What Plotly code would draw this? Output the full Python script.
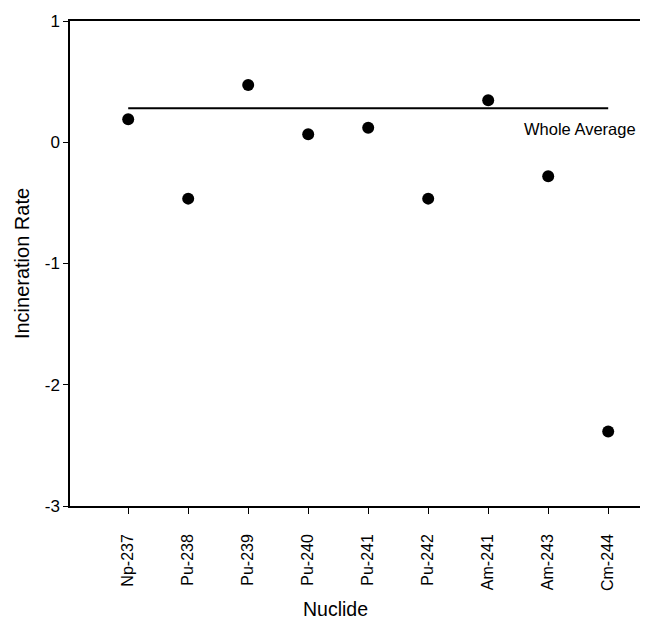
import plotly.graph_objects as go

nuclides = ["Np-237", "Pu-238", "Pu-239", "Pu-240", "Pu-241", "Pu-242", "Am-241", "Am-243", "Cm-244"]
incineration_rate = [0.19, -0.465, 0.473, 0.066, 0.12, -0.465, 0.347, -0.28, -2.385]
whole_average = 0.28
y_ticks = [1, 0, -1, -2, -3]
y_tick_labels = ["1", "0", "-1", "-2", "-3"]

positions = list(range(1, len(nuclides) + 1))
FONT = "Liberation Sans, Arial, sans-serif"

fig = go.Figure()
fig.add_trace(go.Scatter(
    x=[positions[0], positions[-1]], y=[whole_average, whole_average],
    mode="lines", line=dict(color="black", width=2), showlegend=False, hoverinfo="skip"))
fig.add_trace(go.Scatter(
    x=positions, y=incineration_rate, mode="markers",
    marker=dict(color="black", size=12), showlegend=False))

fig.add_annotation(x=8.53, y=whole_average, yshift=-21, text="Whole Average",
                   showarrow=False, xanchor="center", yanchor="middle",
                   font=dict(family=FONT, size=16.5, color="black"))
fig.add_annotation(x=0.466, y=-0.212, xref="paper", yref="paper", text="Nuclide",
                   showarrow=False, xanchor="center", yanchor="middle",
                   font=dict(family=FONT, size=19.5, color="black"))

fig.update_layout(
    width=659, height=623,
    margin=dict(l=70, r=19, t=14, b=117),
    plot_bgcolor="white", paper_bgcolor="white",
    font=dict(family=FONT, size=16, color="black"),
    xaxis=dict(range=[0.03, 9.53], tickmode="array", tickvals=positions, ticktext=nuclides,
               tickangle=-90, showgrid=False, zeroline=False, showline=True,
               linecolor="black", linewidth=1.5, mirror=True,
               ticks="outside", ticklen=6, tickcolor="black", tickwidth=1,
               ticklabelstandoff=14, tickfont=dict(size=16)),
    yaxis=dict(range=[-3, 1], tickmode="array", tickvals=y_ticks, ticktext=y_tick_labels,
               showgrid=False, zeroline=False, showline=True,
               linecolor="black", linewidth=1.5,
               ticks="outside", ticklen=5, tickcolor="black", tickwidth=1,
               tickfont=dict(size=17),
               title=dict(text="Incineration Rate", font=dict(size=20), standoff=10)),
)

fig.write_html("out.html")
